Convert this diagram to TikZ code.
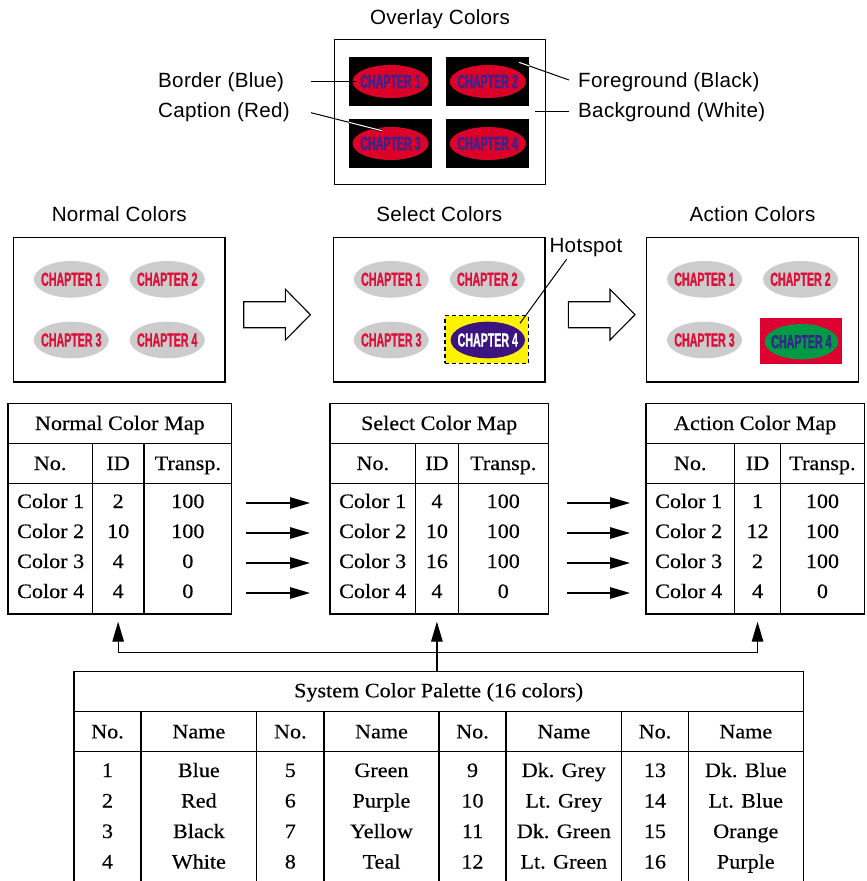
\documentclass[tikz,border=0pt]{standalone}
\usepackage{fontspec}
\setmainfont[FakeStretch=1.08,FakeBold=0.35]{Liberation Serif}
\newfontfamily\labelfont[LetterSpace=1.5]{Liberation Sans}
\newfontfamily\chapfont[FakeStretch=0.56,FakeBold=1]{Liberation Sans}
\usetikzlibrary{shapes.geometric,arrows.meta,calc}

\definecolor{chipgray}{HTML}{CCCCCC}
\definecolor{chipred}{HTML}{DC1038}
\definecolor{ovred}{HTML}{DC0028}
\definecolor{capblue}{HTML}{3A2290}
\definecolor{hotpurple}{HTML}{3C1480}
\definecolor{actgreen}{HTML}{009A44}
\definecolor{actred}{HTML}{DE0030}

\tikzset{
  screen/.style={draw, line width=1.3pt, fill=white, minimum width=211.5pt,
    minimum height=144.7pt, inner sep=0pt},
  chipbase/.style={ellipse, inner sep=0pt,
    font=\chapfont\bfseries\fontsize{19}{19}\selectfont},
  chip/.style={chipbase, minimum width=75pt, minimum height=36.6pt,
    fill=chipgray, text=chipred},
  ovchip/.style={chipbase, minimum width=76pt, minimum height=33pt,
    fill=ovred, text=capblue},
  ovtile/.style={fill=black, minimum width=83pt, minimum height=48.5pt, inner sep=0pt},
  sanslabel/.style={font=\labelfont\fontsize{20.6}{24}\selectfont, inner sep=0pt},
  cell/.style={font=\fontsize{20.5}{24}\selectfont, inner sep=0pt, anchor=base},
  grid/.style={line width=1.3pt},
  flow/.style={line width=1.3pt, -{Triangle[length=20pt,width=11.5pt]}},
  leader/.style={line width=1pt},
  twin/.style={line width=0.8pt, double=white, double distance=1pt},
  hollow/.style={draw, line width=1.1pt, fill=white, line join=miter},
}

\newcommand\chaptxt[1]{\makebox[0pt]{CHAPTER #1}}

% hollow block arrow starting at a point, pointing right
\newcommand\hollowarrow[1]{%
  \draw[hollow] (#1) ++(0,-13) -- ++(41.7,0) -- ++(0,-12.4) -- ++(25,25.4)
    -- ++(-25,25.3) -- ++(0,-12.3) -- ++(-41.7,0) -- cycle;}

% colour map table: prefix, left, col1, col2, right, title, id/transp list
\newcommand\maptable[7]{%
  \draw[grid] (#2,403.3) rectangle (#5,614);
  \draw[grid] (#2,443.3) -- (#5,443.3) (#2,483.3) -- (#5,483.3)
    (#3,443.3) -- (#3,614) (#4,443.3) -- (#4,614);
  \node[cell] (#1-title) at ({(#2+#5)/2},430) {#6};
  \node[cell] (#1-hno) at ({(#2+#3)/2},470) {No.};
  \node[cell] (#1-hid) at ({(#3+#4)/2},470) {ID};
  \node[cell] (#1-htr) at ({(#4+#5)/2},470) {Transp.};
  \coordinate (#1-idb) at ({(#3+#4)/2},614);
  \foreach \idv/\trv [count=\i] in {#7} {
    \node[cell, anchor=base west] (#1-no\i) at (#2+9,478+30*\i) {Color \i};
    \node[cell] (#1-id\i) at ({(#3+#4)/2},478+30*\i) {\idv};
    \node[cell] (#1-tr\i) at ({(#4+#5)/2},478+30*\i) {\trv};
    \coordinate (#1-w\i) at (#2,473+30*\i);
    \coordinate (#1-e\i) at (#5,473+30*\i);
  }%
}

\begin{document}
\begin{tikzpicture}[x=1pt,y=-1pt]
\useasboundingbox (0,0) rectangle (867,881);

% ---------- overlay colours ----------
\node[sanslabel, anchor=base] (ttl-ov) at (440,24) {Overlay Colors};
\node[screen, minimum height=145pt] (obox) at (440,111.8) {};
\node[ovtile] (ot1) at (390.5,81.5) {};
\node[ovtile] (ot2) at (487.75,81.5) {};
\node[ovtile] (ot3) at (390.5,143.5) {};
\node[ovtile] (ot4) at (487.75,143.5) {};
\node[ovchip] (oc1) at (ot1) {\chaptxt{1}};
\node[ovchip] (oc2) at (ot2) {\chaptxt{2}};
\node[ovchip] (oc3) at (ot3) {\chaptxt{3}};
\node[ovchip] (oc4) at (ot4) {\chaptxt{4}};

\node[sanslabel, anchor=base west] (lbl-border) at (158,87.3) {Border (Blue)};
\node[sanslabel, anchor=base west] (lbl-caption) at (158,117.3) {Caption (Red)};
\node[sanslabel, anchor=base west] (lbl-fg) at (578,87.3) {Foreground (Black)};
\node[sanslabel, anchor=base west] (lbl-bg) at (578,117) {Background (White)};

\coordinate (bd-a) at (311,81.5);
\draw[leader] (bd-a) -- ([xshift=3.5pt]oc1.west);
\coordinate (cp-a) at (311,112.7);
\coordinate (cp-b) at (382,130.7);
\draw[leader] (cp-a) -- (cp-b);
\draw[twin] ($(cp-a)!0.535!(cp-b)$) -- (cp-b);
\coordinate (fg-a) at (569,80);
\coordinate (fg-b) at (519,62.3);
\draw[leader] (fg-a) -- (fg-b);
\draw[twin] ($(fg-b)!0.21!(fg-a)$) -- (fg-b);
\coordinate (bg-a) at (569,111.7);
\coordinate (bg-b) at (535,111.7);
\draw[leader] (bg-a) -- (bg-b);

% ---------- normal / select / action screens ----------
\node[sanslabel, anchor=base] (ttl-n) at (119.3,221) {Normal Colors};
\node[sanslabel, anchor=base] (ttl-s) at (439.3,221) {Select Colors};
\node[sanslabel, anchor=base] (ttl-a) at (752.5,221) {Action Colors};

\node[screen] (nbox) at (119.3,309.7) {};
\node[chip] (n1) at (71.3,279.3) {\chaptxt{1}};
\node[chip] (n2) at (167.3,279.3) {\chaptxt{2}};
\node[chip] (n3) at (71.3,340) {\chaptxt{3}};
\node[chip] (n4) at (167.3,340) {\chaptxt{4}};

\node[screen] (sbox) at (439.3,309.7) {};
\node[chip] (s1) at (391.3,279.3) {\chaptxt{1}};
\node[chip] (s2) at (487.3,279.3) {\chaptxt{2}};
\node[chip] (s3) at (391.3,340) {\chaptxt{3}};
\node[draw, dashed, dash pattern=on 4pt off 3pt, line width=1.2pt, fill=yellow,
  minimum width=83.3pt, minimum height=47.6pt, inner sep=0pt] (hot) at (486.65,339.5) {};
\node[chipbase, minimum width=74.4pt, minimum height=36.6pt, fill=hotpurple,
  text=white] (s4) at (487.8,340) {\chaptxt{4}};

\node[sanslabel, anchor=base] (lbl-hot) at (586,252.7) {Hotspot};
\coordinate (hs-a) at (566.6,259.3);
\coordinate (hs-b) at (520,323.3);
\draw[leader] (hs-a) -- (hs-b);

\node[screen] (abox) at (752.5,309.7) {};
\node[chip] (a1) at (704.5,279.3) {\chaptxt{1}};
\node[chip] (a2) at (800.5,279.3) {\chaptxt{2}};
\node[chip] (a3) at (704.5,340) {\chaptxt{3}};
\node[fill=actred, minimum width=82.4pt, minimum height=46.6pt, inner sep=0pt]
  (actrect) at (801.2,341) {};
\node[chipbase, minimum width=73.7pt, minimum height=35.3pt, fill=actgreen,
  text=capblue] (a4) at (801.4,341.7) {\chaptxt{4}};

\hollowarrow{$(nbox.east)+(18,5)$}
\hollowarrow{$(sbox.east)+(22.6,5)$}

% ---------- colour maps ----------
\maptable{N}{8}{92.3}{144}{231.7}{Normal Color Map}{2/100,10/100,4/0,4/0}
\maptable{S}{330}{415.6}{458.2}{548.3}{Select Color Map}{4/100,10/100,16/100,4/0}
\maptable{A}{646}{734.5}{780.6}{864.3}{Action Color Map}{1/100,12/100,2/100,4/0}

\foreach \i in {1,...,4} {
  \draw[flow] ([xshift=14.5pt]N-e\i) -- ([xshift=-20pt]S-w\i);
  \draw[flow] ([xshift=18.4pt]S-e\i) -- ([xshift=-16pt]A-w\i);
}

% ---------- system palette ----------
\draw[grid] (74,890) -- (74,671.7) -- (803.3,671.7) -- (803.3,890);
\draw[grid] (74,711.7) -- (803.3,711.7) (74,751.7) -- (803.3,751.7);
\foreach \cx in {141,256.7,324,439,506,621.7,688.3}
  \draw[grid] (\cx,711.7) -- (\cx,890);
\coordinate (pal-top) at (438.65,671.7);
\node[cell] (pal-title) at (438.65,697.3) {System Color Palette (16 colors)};
\foreach \xn/\xm [count=\g] in {107.5/198.85,290.35/381.5,472.5/563.85,655/745.8} {
  \node[cell] (pal-hn\g) at (\xn,738.3) {No.};
  \node[cell] (pal-hm\g) at (\xm,738.3) {Name};
}
\foreach \nm [count=\i] in {Blue,Red,Black,White} {
  \node[cell] (pal-no\i) at (107.5,746.5+30.5*\i) {\i};
  \node[cell] (pal-nm\i) at (198.85,746.5+30.5*\i) {\nm};
}
\foreach \nm [count=\i from 5] in {Green,Purple,Yellow,Teal} {
  \node[cell] (pal-no\i) at (290.35,746.5+30.5*\i-122) {\i};
  \node[cell] (pal-nm\i) at (381.5,746.5+30.5*\i-122) {\nm};
}
\foreach \nm [count=\i from 9] in {Dk. Grey,Lt. Grey,Dk. Green,Lt. Green} {
  \node[cell] (pal-no\i) at (472.5,746.5+30.5*\i-244) {\i};
  \node[cell] (pal-nm\i) at (563.85,746.5+30.5*\i-244) {\nm};
}
\foreach \nm [count=\i from 13] in {Dk. Blue,Lt. Blue,Orange,Purple} {
  \node[cell] (pal-no\i) at (655,746.5+30.5*\i-366) {\i};
  \node[cell] (pal-nm\i) at (745.8,746.5+30.5*\i-366) {\nm};
}

% palette feeds the three colour maps
\coordinate (bus) at (S-idb |- 0,652.7);
\draw[flow] (S-idb |- pal-top) -- ([yshift=-7.7pt]S-idb);
\draw[flow] (bus) -| ([yshift=-7.7pt]N-idb);
\draw[flow] (bus) -| ([yshift=-7.7pt]A-idb);
\end{tikzpicture}
\end{document}
